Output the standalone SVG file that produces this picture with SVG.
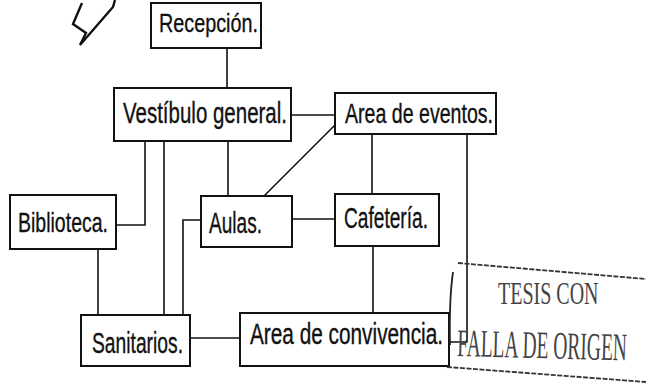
<svg xmlns="http://www.w3.org/2000/svg" width="646" height="383" viewBox="0 0 646 383">
<style>
.box{fill:#fff;stroke:#111;stroke-width:2}
.lbl{font-family:"Liberation Sans Narrow","Liberation Sans",Arial,sans-serif;fill:#111;stroke:#111;stroke-width:0.35}
.con{fill:none;stroke:#111;stroke-width:1.6}
.stamp{fill:none;stroke:#333;stroke-width:1.8;stroke-dasharray:5 1.5}
.st{font-family:"Liberation Serif","DejaVu Serif",serif;fill:#444}
</style>
<rect width="646" height="383" fill="#fff"/>
<polyline points="82,3 73,24 86,33 80,45 113,7 115,0" fill="none" stroke="#111" stroke-width="2.4" stroke-linejoin="miter"/>
<g id="connectors">
<line class="con" x1="227" y1="48" x2="227" y2="88"/>
<line class="con" x1="228" y1="141" x2="228" y2="196"/>
<line class="con" x1="291" y1="115" x2="335" y2="115"/>
<line class="con" x1="264" y1="196" x2="335" y2="125"/>
<line class="con" x1="372" y1="134" x2="372" y2="194"/>
<line class="con" x1="292" y1="219" x2="335" y2="219"/>
<line class="con" x1="373" y1="246" x2="373" y2="313"/>
<polyline class="con" points="467,134 467,342 449,342"/>
<polyline class="con" points="145,141 145,225 116,225"/>
<line class="con" x1="164" y1="141" x2="164" y2="315"/>
<polyline class="con" points="201,220 183,220 183,315"/>
<line class="con" x1="98" y1="249" x2="98" y2="315"/>
<line class="con" x1="190" y1="338" x2="240" y2="338"/>
</g>
<g id="recepcion"><rect class="box" x="151" y="3" width="110" height="45"/><text class="lbl" x="159" y="32" font-size="26" textLength="99" lengthAdjust="spacingAndGlyphs">Recepción.</text></g>
<g id="vestibulo"><rect class="box" x="114" y="88" width="177" height="53"/><text class="lbl" x="123" y="123" font-size="29" textLength="164" lengthAdjust="spacingAndGlyphs">Vestíbulo general.</text></g>
<g id="eventos"><rect class="box" x="335" y="93" width="161" height="41"/><text class="lbl" x="345" y="123" font-size="27" textLength="148" lengthAdjust="spacingAndGlyphs">Area de eventos.</text></g>
<g id="biblioteca"><rect class="box" x="10" y="195" width="106" height="54"/><text class="lbl" x="18" y="232" font-size="28" textLength="90" lengthAdjust="spacingAndGlyphs">Biblioteca.</text></g>
<g id="aulas"><rect class="box" x="201" y="196" width="91" height="51"/><text class="lbl" x="209" y="233" font-size="30" textLength="53" lengthAdjust="spacingAndGlyphs">Aulas.</text></g>
<g id="cafeteria"><rect class="box" x="335" y="194" width="104" height="52"/><text class="lbl" x="344" y="228" font-size="29" textLength="84" lengthAdjust="spacingAndGlyphs">Cafetería.</text></g>
<g id="sanitarios"><rect class="box" x="81" y="315" width="109" height="51"/><text class="lbl" x="92" y="353" font-size="30" textLength="91" lengthAdjust="spacingAndGlyphs">Sanitarios.</text></g>
<g id="convivencia"><rect class="box" x="240" y="313" width="209" height="53"/><text class="lbl" x="250" y="344" font-size="30" textLength="193" lengthAdjust="spacingAndGlyphs">Area de convivencia.</text></g>
<g id="stamp">
<path class="stamp" d="M458,263 L646,279"/>
<path class="stamp" d="M447,367 L646,382"/>
<path d="M453,272 Q449,300 450,345" fill="none" stroke="#222" stroke-width="1.8"/>
<text class="st" font-size="20" transform="translate(498,304) scale(1,1.6)">TESIS CON</text>
<text class="st" font-size="19.5" transform="translate(457,356) rotate(1.5) scale(1,2)">FALLA DE ORIGEN</text>
</g>
</svg>
